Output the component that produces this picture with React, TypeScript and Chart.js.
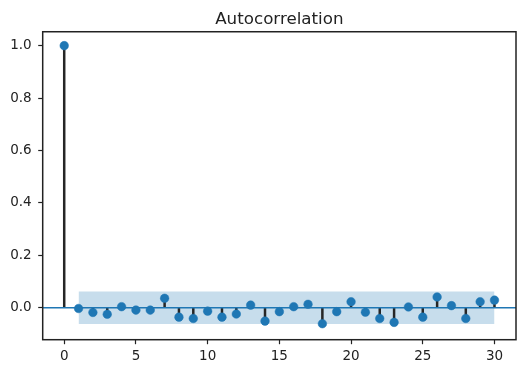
import React, { useEffect, useRef } from "react";
import { Chart, registerables } from "chart.js";

Chart.register(...registerables);

const lags = [0, 1, 2, 3, 4, 5, 6, 7, 8, 9, 10, 11, 12, 13, 14, 15, 16, 17, 18, 19, 20, 21, 22, 23, 24, 25, 26, 27, 28, 29, 30];
const acfValues = [1.0, -0.003, -0.018, -0.025, 0.004, -0.009, -0.009, 0.036, -0.036, -0.041, -0.013, -0.036, -0.024, 0.010, -0.051, -0.015, 0.004, 0.013, -0.061, -0.015, 0.023, -0.017, -0.041, -0.056, 0.003, -0.036, 0.041, 0.008, -0.041, 0.023, 0.029];
const confBand = 0.062;
const xTicks = [0, 5, 10, 15, 20, 25, 30];
const yTicks = [0.0, 0.2, 0.4, 0.6, 0.8, 1.0];
const xRange = [-1.5, 31.5];
const yRange = [-0.122, 1.053];

const BLUE = "#1f77b4";
const FONT = "'DejaVu Sans', sans-serif";

const framePlugin = {
  id: "frame",
  afterDraw(chart: any) {
    const { ctx, chartArea } = chart;
    ctx.save();
    ctx.strokeStyle = "#222";
    ctx.lineWidth = 1.5;
    ctx.strokeRect(chartArea.left, chartArea.top, chartArea.right - chartArea.left, chartArea.bottom - chartArea.top);
    ctx.restore();
  },
};

export default function App() {
  const ref = useRef<HTMLCanvasElement>(null);
  useEffect(() => {
    if (!ref.current) return;
    const stemData: any[] = [];
    lags.forEach((k, i) => {
      stemData.push({ x: k, y: 0 });
      stemData.push({ x: k, y: acfValues[i] });
      stemData.push({ x: k, y: null });
    });
    const bandStart = lags[1];
    const bandEnd = lags[lags.length - 1];
    const chart = new Chart(ref.current, {
      type: "scatter",
      data: {
        datasets: [
          {
            label: "acf",
            data: lags.map((k, i) => ({ x: k, y: acfValues[i] })),
            pointRadius: 4.3,
            pointBackgroundColor: BLUE,
            pointBorderColor: BLUE,
            pointBorderWidth: 0.5,
            showLine: false,
          },
          {
            label: "zero",
            type: "line",
            data: [{ x: xRange[0], y: 0 }, { x: xRange[1], y: 0 }],
            borderColor: BLUE,
            borderWidth: 1.6,
            pointRadius: 0,
            fill: false,
          } as any,
          {
            label: "stems",
            type: "line",
            data: stemData,
            borderColor: "#262626",
            borderWidth: 2.5,
            pointRadius: 0,
            spanGaps: false,
            fill: false,
          } as any,
          {
            label: "band",
            type: "line",
            data: [{ x: bandStart, y: confBand }, { x: bandEnd, y: confBand }],
            borderWidth: 0,
            borderColor: "rgba(0,0,0,0)",
            backgroundColor: "rgba(31,119,180,0.25)",
            pointRadius: 0,
            fill: { value: -confBand },
          } as any,
        ],
      },
      options: {
        responsive: false,
        animation: false,
        layout: { padding: { left: 0, right: 14, top: 0, bottom: 0 } },
        plugins: {
          legend: { display: false },
          tooltip: { enabled: false },
          title: {
            display: true,
            text: "Autocorrelation",
            fullSize: false,
            color: "#222",
            font: { family: FONT, size: 16.7, weight: "normal" },
            padding: { top: 9.8, bottom: 1.9 },
          },
        },
        scales: {
          x: {
            type: "linear",
            min: xRange[0],
            max: xRange[1],
            afterBuildTicks: (s: any) => {
              s.ticks = xTicks.map((v) => ({ value: v }));
            },
            afterFit: (s: any) => {
              s.height = 33.3;
            },
            grid: { drawOnChartArea: false, drawTicks: true, tickLength: 4.5, color: "#222", tickWidth: 1.2 },
            border: { display: false },
            ticks: {
              color: "#222",
              font: { family: FONT, size: 13.5 },
              padding: 4,
              maxRotation: 0,
              callback: (v: any) => String(v),
            },
          },
          y: {
            type: "linear",
            min: yRange[0],
            max: yRange[1],
            afterBuildTicks: (s: any) => {
              s.ticks = yTicks.map((v) => ({ value: v }));
            },
            afterFit: (s: any) => {
              s.width = 42.7;
            },
            grid: { drawOnChartArea: false, drawTicks: true, tickLength: 4.5, color: "#222", tickWidth: 1.2 },
            border: { display: false },
            ticks: {
              color: "#222",
              font: { family: FONT, size: 13.5 },
              padding: 6.5,
              callback: (v: any) => Number(v).toFixed(1),
            },
          },
        },
      },
      plugins: [framePlugin],
    } as any);
    return () => chart.destroy();
  }, []);
  return (
    <div style={{ position: "absolute", left: 0, top: 0, width: 530, height: 373, background: "#fff" }}>
      <canvas ref={ref} width={530} height={373} style={{ width: 530, height: 373 }} />
    </div>
  );
}
